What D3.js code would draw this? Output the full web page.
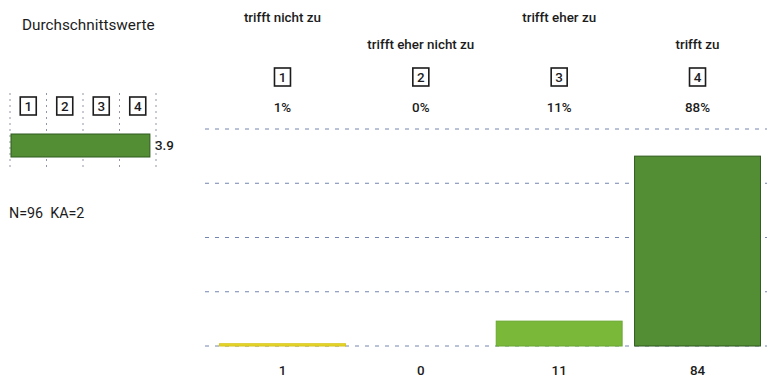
<!DOCTYPE html>
<html>
<head>
<meta charset="utf-8">
<script src="https://cdn.jsdelivr.net/npm/d3@7"></script>
<style>
  html, body { margin: 0; padding: 0; background: #ffffff; }
  svg { display: block; font-family: Roboto, "Noto Sans", sans-serif; }
  .pre { white-space: pre; }
</style>
</head>
<body>
<svg id="chart" width="771" height="383"></svg>
<script>
// Answer categories (scale points 1..4)
const categories = ["1", "2", "3", "4"];
const categoryLabels = ["trifft nicht zu", "trifft eher nicht zu", "trifft eher zu", "trifft zu"];
// Number of answers per category
const counts = [1, 0, 11, 84];
const barColors = ["#e6d62c", "#e6d62c", "#7ab83a", "#548e34"];
const barStrokes = ["#d8c41c", "#d8c41c", "#6aa830", "#2f5a1e"];
const gridTicks = [0, 24, 48, 72, 96];
const totalN = 96;
const noAnswer = 2;

const svg = d3.select("#chart");
const ink = "#1c1c1c";
const fs = 13.4;

// ---------- main distribution chart ----------
const x = d3.scaleBand().domain(categories).range([214, 766]).paddingInner(0.09).paddingOuter(0.04);
const y = d3.scaleLinear().domain([0, totalN]).range([346, 129]);

// dashed grid lines
svg.append("g").selectAll("line").data(gridTicks).join("line")
  .attr("x1", 205).attr("x2", 767)
  .attr("y1", d => y(d)).attr("y2", d => y(d))
  .attr("stroke", "#7484b0").attr("stroke-width", 1)
  .attr("stroke-dasharray", "4,6");

// bars
svg.append("g").selectAll("rect").data(counts).join("rect")
  .attr("x", (d, i) => x(categories[i]))
  .attr("width", x.bandwidth())
  .attr("y", d => y(d))
  .attr("height", d => y(0) - y(d))
  .attr("fill", (d, i) => barColors[i])
  .attr("stroke", (d, i) => d > 0 ? barStrokes[i] : "none")
  .attr("stroke-width", 1);

const cx = c => x(c) + x.bandwidth() / 2;

// category labels, staggered on two rows
svg.append("g").selectAll("text").data(categoryLabels).join("text")
  .attr("x", (d, i) => cx(categories[i]))
  .attr("y", (d, i) => i % 2 === 0 ? 22 : 49)
  .attr("text-anchor", "middle")
  .attr("font-size", fs).attr("font-weight", 500)
  .attr("fill", ink)
  .text(d => d);

// numbered boxes
const boxes = svg.append("g").selectAll("g").data(categories).join("g")
  .attr("transform", c => `translate(${cx(c)},77)`);
boxes.append("rect")
  .attr("x", -8).attr("y", -9).attr("width", 16).attr("height", 18)
  .attr("fill", "#fff").attr("stroke", ink).attr("stroke-width", 1.6);
boxes.append("text")
  .attr("text-anchor", "middle").attr("dy", "0.36em")
  .attr("font-size", fs).attr("font-weight", 500).attr("fill", ink)
  .text(c => c);

// percentages
svg.append("g").selectAll("text").data(counts).join("text")
  .attr("x", (d, i) => cx(categories[i]))
  .attr("y", 112)
  .attr("text-anchor", "middle")
  .attr("font-size", fs).attr("font-weight", 500).attr("fill", ink)
  .text(d => Math.round(d / totalN * 100) + "%");

// counts
svg.append("g").selectAll("text").data(counts).join("text")
  .attr("x", (d, i) => cx(categories[i]))
  .attr("y", 375)
  .attr("text-anchor", "middle")
  .attr("font-size", fs).attr("font-weight", 500).attr("fill", ink)
  .text(d => d);

// ---------- mean value panel ----------
const mean = d3.sum(counts, (d, i) => d * (i + 1)) / d3.sum(counts);
const mx = d3.scaleLinear().domain([1, 4]).range([10, 156]);
const meanTicks = [1, 1.75, 2.5, 3.25, 4];

svg.append("text")
  .attr("x", 22).attr("y", 30)
  .attr("font-size", 15.3).attr("fill", ink)
  .text("Durchschnittswerte");

svg.append("g").selectAll("line").data(meanTicks).join("line")
  .attr("x1", d => mx(d)).attr("x2", d => mx(d))
  .attr("y1", 93).attr("y2", 169)
  .attr("stroke", "#9097a8").attr("stroke-width", 1)
  .attr("stroke-dasharray", "2,4");

const mBoxes = svg.append("g").selectAll("g").data(categories).join("g")
  .attr("transform", (c, i) => `translate(${(mx(meanTicks[i]) + mx(meanTicks[i + 1])) / 2},106)`);
mBoxes.append("rect")
  .attr("x", -8).attr("y", -9).attr("width", 16).attr("height", 18)
  .attr("fill", "#fff").attr("stroke", ink).attr("stroke-width", 1.6);
mBoxes.append("text")
  .attr("text-anchor", "middle").attr("dy", "0.36em")
  .attr("font-size", fs).attr("font-weight", 500).attr("fill", ink)
  .text(c => c);

svg.append("rect")
  .attr("x", mx(1) + 1).attr("y", 134)
  .attr("width", mx(mean) - mx(1)).attr("height", 23)
  .attr("fill", "#548e34").attr("stroke", "#2f5a1e").attr("stroke-width", 1);

svg.append("text")
  .attr("x", mx(4) - 1).attr("y", 150)
  .attr("font-size", fs).attr("font-weight", 500).attr("fill", ink)
  .text(d3.format(".1f")(mean));

svg.append("text")
  .attr("class", "pre")
  .attr("x", 9).attr("y", 218)
  .attr("font-size", 14.3).attr("fill", ink)
  .text(`N=${totalN}  KA=${noAnswer}`);
</script>
</body>
</html>
